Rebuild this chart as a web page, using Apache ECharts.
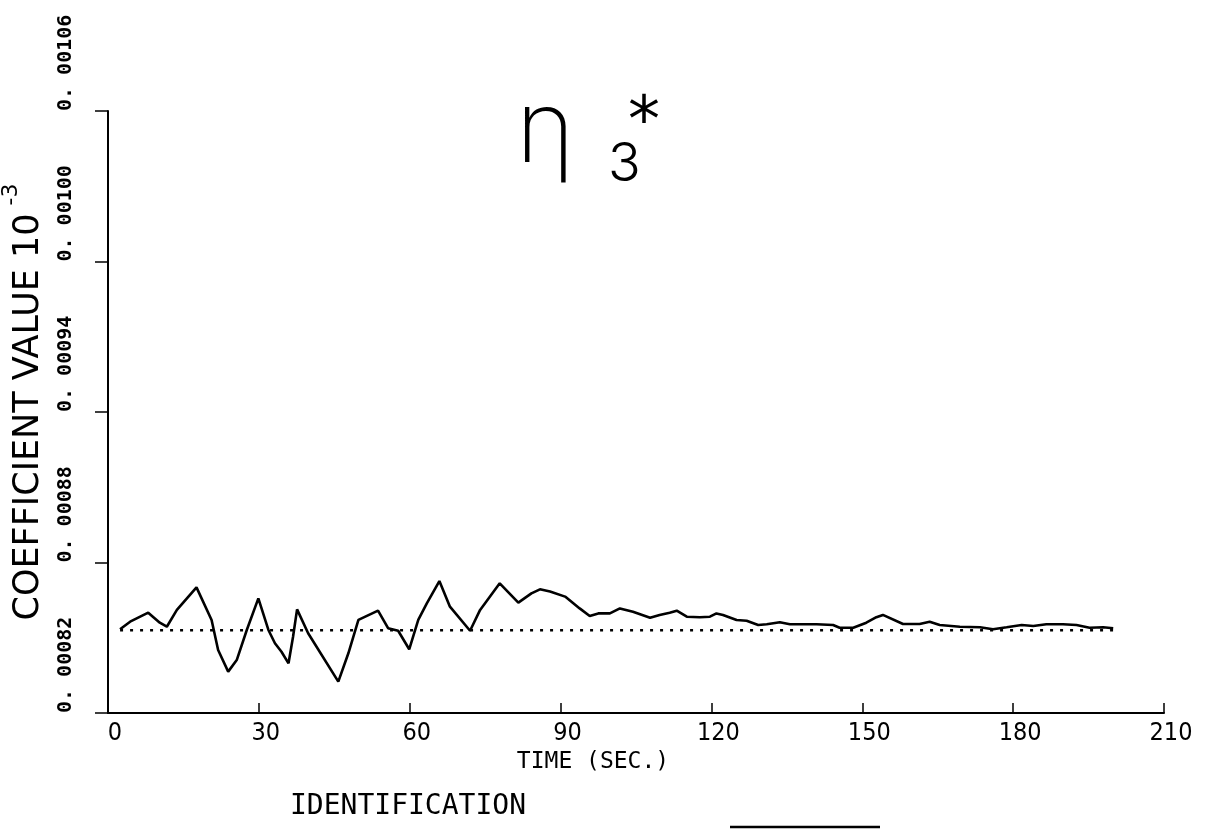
<!DOCTYPE html>
<html>
<head>
<meta charset="utf-8">
<style>
  html, body { margin: 0; padding: 0; background: #ffffff; }
  #chart { width: 1222px; height: 833px; }
</style>
<script src="https://cdn.jsdelivr.net/npm/echarts@6/dist/echarts.min.js"></script>
</head>
<body>
<div id="chart"></div>
<script>
// ---- data ----
const xTickValues = [0, 30, 60, 90, 120, 150, 180, 210];
const yTickValues = [0.00082, 0.00088, 0.00094, 0.00100, 0.00106];

const identTimes = [
  2.4, 4.4, 8.0, 10.3, 11.7, 13.7, 17.6, 20.6, 21.9, 23.9,
  25.6, 27.6, 29.9, 31.9, 33.2, 34.5, 35.9, 36.8, 37.6, 39.8,
  45.8, 47.8, 49.8, 53.7, 55.7, 57.7, 59.9, 61.7, 63.4, 65.9,
  68.0, 72.0, 74.0, 77.9, 81.6, 84.2, 85.9, 87.9, 90.9, 93.8,
  95.8, 97.5, 99.8, 101.8, 104.4, 107.8, 109.7, 111.7, 113.1, 115.1,
  117.7, 119.7, 121.0, 122.3, 125.0, 127.0, 129.3, 131.0, 133.6, 135.6,
  140.9, 144.2, 145.5, 148.2, 150.8, 152.8, 154.1, 158.1, 161.4, 163.4,
  165.4, 169.4, 173.4, 176.0, 178.7, 181.7, 184.0, 186.6, 189.9, 192.6,
  195.2, 197.9, 199.9
];
const identValues = [
  0.0008534, 0.0008564, 0.0008600, 0.0008560, 0.0008544, 0.0008611, 0.0008701, 0.0008571, 0.0008451, 0.0008365,
  0.0008411, 0.0008531, 0.0008657, 0.0008531, 0.0008478, 0.0008444, 0.0008398, 0.0008504, 0.0008613, 0.0008518,
  0.0008325, 0.0008438, 0.0008571, 0.0008608, 0.0008538, 0.0008528, 0.0008454, 0.0008571, 0.0008637, 0.0008726,
  0.0008624, 0.0008528, 0.0008611, 0.0008717, 0.0008640, 0.0008677, 0.0008693, 0.0008684, 0.0008664, 0.0008617,
  0.0008587, 0.0008597, 0.0008597, 0.0008617, 0.0008604, 0.0008580, 0.0008591, 0.0008600, 0.0008608, 0.0008584,
  0.0008582, 0.0008584, 0.0008597, 0.0008591, 0.0008571, 0.0008568, 0.0008551, 0.0008554, 0.0008562, 0.0008554,
  0.0008554, 0.0008551, 0.0008540, 0.0008540, 0.0008560, 0.0008582, 0.0008591, 0.0008555, 0.0008555, 0.0008564,
  0.0008551, 0.0008544, 0.0008542, 0.0008534, 0.0008542, 0.0008551, 0.0008547, 0.0008554, 0.0008554, 0.0008551,
  0.0008540, 0.0008542, 0.0008538
];
const trueTimes = [2.4, 199.9];
const trueValues = [0.000853, 0.000853];

// ---- chart ----
const chart = echarts.init(document.getElementById('chart'), null, { renderer: 'canvas' });

const pairs = (xs, ys) => xs.map((x, i) => [x, ys[i]]);
const ink = '#000000';

const option = {
  backgroundColor: '#ffffff',
  animation: false,
  grid: { left: 108, right: 58, top: 111, bottom: 120, containLabel: false, outerBoundsMode: 'none' },
  xAxis: {
    type: 'value',
    min: 0, max: 210, interval: 30,
    name: 'TIME (SEC.)',
    nameLocation: 'middle',
    nameGap: 38,
    nameMoveOverlap: false,
    nameTextStyle: { color: ink, fontFamily: 'DejaVu Sans Mono', fontSize: 23, padding: [0, 86, 0, 0] },
    axisLine: { show: true, onZero: false, lineStyle: { color: ink, width: 2 } },
    axisTick: { show: true, inside: true, length: 10, lineStyle: { color: ink, width: 1.5 }, customValues: xTickValues },
    axisLabel: {
      color: ink, fontFamily: 'Liberation Sans Narrow, DejaVu Sans Condensed, DejaVu Sans', fontSize: 25,
      margin: 8, padding: [0, 0, 0, 14], customValues: xTickValues,
      formatter: v => String(v)
    },
    splitLine: { show: false }
  },
  yAxis: {
    type: 'value',
    min: 0.00082, max: 0.00106,
    name: '{a|COEFFICIENT VALUE 10}{b|-3}',
    nameLocation: 'middle',
    nameRotate: 90,
    nameGap: 62,
    nameMoveOverlap: false,
    nameTextStyle: {
      color: ink,
      padding: [0, 0, 0, 20],
      rich: {
        a: { fontFamily: 'DejaVu Sans', fontSize: 35, color: ink, lineHeight: 46, verticalAlign: 'bottom' },
        b: { fontFamily: 'DejaVu Sans', fontSize: 22, color: ink, lineHeight: 46, verticalAlign: 'top', padding: [0, 0, 0, 8] }
      }
    },
    axisLine: { show: true, onZero: false, lineStyle: { color: ink, width: 2 } },
    axisTick: { show: true, inside: false, length: 13, lineStyle: { color: ink, width: 1.5 }, customValues: yTickValues },
    axisLabel: {
      color: ink, fontFamily: 'DejaVu Sans Mono', fontWeight: 'bold', fontSize: 20,
      rotate: 90, align: 'left', verticalAlign: 'middle', margin: 42,
      customValues: yTickValues,
      formatter: v => '0. ' + v.toFixed(5).slice(2)
    },
    splitLine: { show: false }
  },
  series: [
    {
      name: 'IDENTIFICATION',
      type: 'line',
      data: pairs(identTimes, identValues),
      showSymbol: false,
      symbol: 'none',
      lineStyle: { color: ink, width: 2.6 },
      z: 3
    },
    {
      name: 'TRUE',
      type: 'line',
      data: pairs(trueTimes, trueValues),
      showSymbol: false,
      symbol: 'none',
      lineStyle: { color: ink, width: 2.6, type: [3, 7] },
      z: 2
    }
  ],
  graphic: [
    { type: 'text', left: 516, top: 82, style: { text: 'η', fontFamily: 'Inter, DejaVu Sans', fontWeight: 200, fontSize: 100, fill: ink } },
    { type: 'text', left: 608, top: 138, style: { text: '3', fontFamily: 'Inter, DejaVu Sans', fontWeight: 300, fontSize: 54, fill: ink } },
    { type: 'text', left: 628, top: 92, style: { text: '*', fontFamily: 'DejaVu Sans', fontWeight: 'normal', fontSize: 64, fill: ink } },
    { type: 'text', left: 290, top: 793, style: { text: 'IDENTIFICATION', fontFamily: 'DejaVu Sans Mono', fontSize: 28, fill: ink } },
    { type: 'line', shape: { x1: 730, y1: 827, x2: 880, y2: 827 }, style: { stroke: ink, lineWidth: 2.5 } }
  ]
};

chart.setOption(option);
</script>
</body>
</html>
